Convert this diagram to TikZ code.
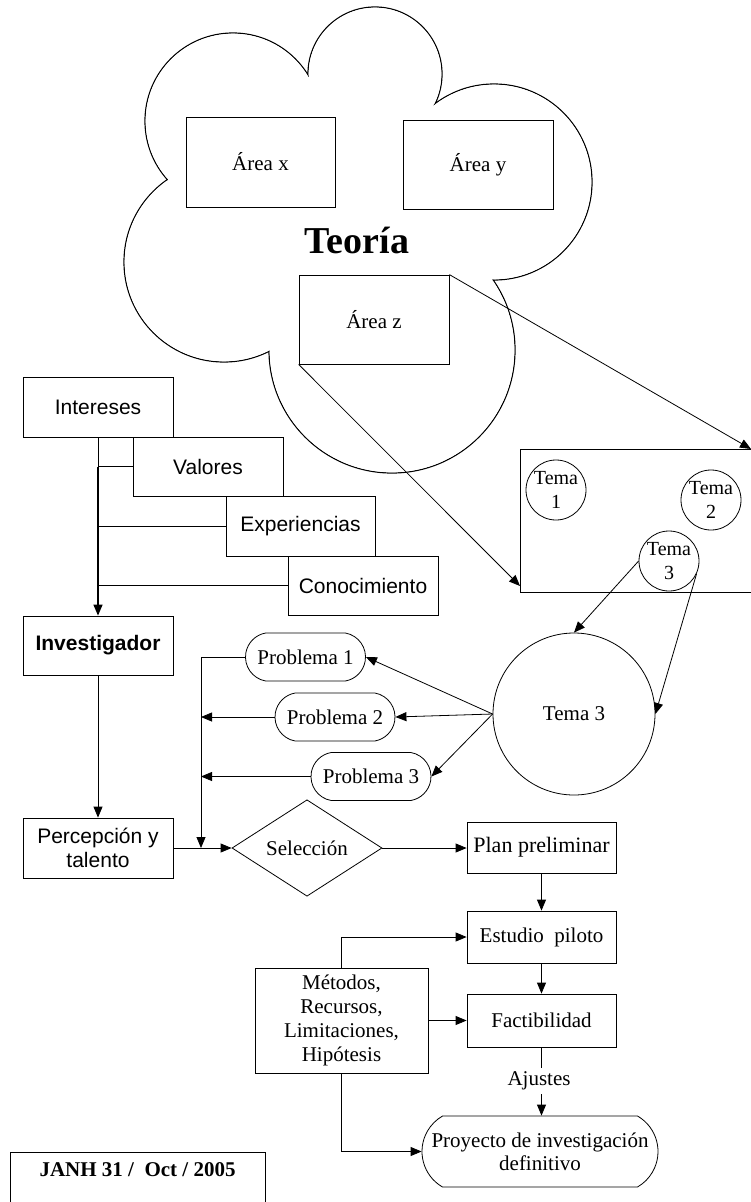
\documentclass[tikz,border=0pt]{standalone}
\usepackage{fontspec}
\setmainfont{Liberation Serif}
\newfontfamily\arialf{Liberation Sans}
\usetikzlibrary{arrows.meta,shapes.geometric,shapes.misc}
\tikzset{
  every node/.style={inner sep=0pt, font=\fontsize{21}{24}\selectfont},
  box/.style={draw, line width=0.8pt, rectangle, align=center},
  sbox/.style={box, minimum width=150pt, minimum height=60pt, font=\arialf\fontsize{21}{24}\selectfont},
  probbox/.style={draw, line width=0.8pt, rounded rectangle, rounded rectangle arc length=160, minimum width=120pt, minimum height=48pt},
  temac/.style={draw, line width=0.8pt, circle, minimum size=60pt, align=center, font=\fontsize{20}{24}\selectfont},
  arr/.style={-{Triangle[length=11pt,width=9pt]}, line width=0.8pt},
  ln/.style={line width=0.8pt},
  cloudline/.style={line width=1.2pt}
}
\begin{document}
\begin{tikzpicture}[x=1pt,y=-1pt]
\useasboundingbox (0,0) rectangle (751,1202);
\clip (0,0) rectangle (751,1202);
\fill[white] (0,0) rectangle (751,1202);

% cloud: union of circles
\draw[cloudline] (375,74) circle[radius=67]
                 (233,121) circle[radius=88]
                 (224,262) circle[radius=100]
                 (392,350) circle[radius=123]
                 (494,182) circle[radius=98];
\fill[white] (375,74) circle[radius=66.3]
             (233,121) circle[radius=87.3]
             (224,262) circle[radius=99.3]
             (392,350) circle[radius=122.3]
             (494,182) circle[radius=97.3];
\fill[white] (309,77) -- (428,115) -- (487,277) -- (273,351) -- (172,183) -- cycle;

\node[font=\bfseries\fontsize{38}{42}\selectfont] (teoria) at (357,240) {Teoría};
\node[box, minimum width=149pt, minimum height=90pt] (ax) at (260.5,162) {Área x};
\node[box, minimum width=150pt, minimum height=89pt] (ay) at (478,164.5) {Área y};
\node[box, minimum width=150pt, minimum height=89pt] (az) at (374,319.5) {Área z};

% tema box
\node[box, minimum width=240pt, minimum height=143pt] (temabox) at (640,520.5) {};
\node[temac] (t1) at (556,490) {Tema\\1};
\node[temac] (t2) at (711,500) {Tema\\2};
\node[temac] (t3s) at (669,561) {Tema\\3};
\coordinate (tbne) at (751,449);
\coordinate (tbin) at (520,586);
\draw[arr] (az.north east) -- (tbne);
\draw[arr] (az.south west) -- (tbin);

% big Tema 3
\node[draw, line width=0.8pt, circle, minimum size=162pt] (T3) at (574,714) {Tema 3};
\draw[arr] (t3s.west) -- (T3.north);
\draw[arr] (t3s.-25) -- (T3.east);

% left column
\node[sbox] (int) at (98,407) {Intereses};
\node[sbox, minimum height=59pt] (val) at (208,466.5) {Valores};
\node[sbox, minimum width=149pt] (exp) at (300.5,526) {Experiencias};
\node[sbox, minimum height=59pt] (con) at (363,585.5) {Conocimiento};
\node[sbox, minimum height=59pt, font=\arialf\bfseries\fontsize{21}{24}\selectfont] (inv) at (98,645.5) {Investigador};
\node[sbox] (per) at (98,848) {Percepción y\\talento};
\draw[ln] (int.south) -- (val.west -| int.south);
\draw[arr, line width=1.3pt] (val.west -| int.south) -- (inv.north);
\draw[ln] (val.west) -- (val.west -| int.south);
\draw[ln] (exp.west) -- (exp.west -| int.south);
\draw[ln] (con.west) -- (con.west -| int.south);
\draw[arr] (inv.south) -- (per.north);

% problems
\node[probbox] (p1) at (305.5,657) {Problema 1};
\node[probbox] (p2) at (335,717) {Problema 2};
\node[probbox] (p3) at (371,776.5) {Problema 3};
\draw[arr] (T3.west) -- (p1.east);
\draw[arr] (T3.west) -- (p2.east);
\draw[arr] (T3.west) -- (p3.east);

% selection
\node[draw, line width=0.8pt, diamond, minimum width=150pt, minimum height=89pt] (sel) at (307,848) {Selección};
\coordinate (cx) at (201,848);
\draw[arr] (p1.west) -| (cx);
\draw[arr] (p2.west) -- (p2.west -| cx);
\draw[arr] (p3.west) -- (p3.west -| cx);
\draw[arr] (per.east) -- (sel.west);

% right chain
\node[box, minimum width=149pt, minimum height=51pt, font=\fontsize{22}{24}\selectfont] (plan) at (541.5,847.5) {Plan preliminar};
\node[box, minimum width=149pt, minimum height=52pt] (est) at (541.5,937) {Estudio\ \ piloto};
\node[box, minimum width=149pt, minimum height=53pt] (fac) at (541.5,1020.5) {Factibilidad};
\node[box, minimum width=173pt, minimum height=105pt] (met) at (341.5,1020.5) {Métodos,\\Recursos,\\Limitaciones,\\Hipótesis};
\node[draw, line width=0.8pt, rounded rectangle, rounded rectangle arc length=120, minimum width=236pt, minimum height=71pt, align=center, font=\fontsize{21}{23}\selectfont] (proy) at (540,1151.5) {Proyecto de investigación\\definitivo};
\node[inner sep=4pt] (aj) at (539,1081) {Ajustes};

\draw[arr] (sel.east) -- (sel.east -| plan.west);
\draw[arr] (plan.south) -- (est.north);
\draw[arr] (est.south) -- (fac.north);
\draw[arr] (met.north) |- (est.west);
\draw[arr] (met.east) -- (fac.west);
\draw[arr] (met.south) |- (proy.west);
\draw[ln] (fac.south) -- (aj.north -| fac.south);
\draw[arr] (aj.south -| fac.south) -- (proy.north -| fac.south);

% signature box
\node[draw, line width=0.8pt, anchor=north, minimum width=255pt, inner ysep=10pt, text height=14pt, text depth=40pt, font=\bfseries\fontsize{21}{24}\selectfont] (janh) at (137.5,1152) {JANH 31 /\ \ Oct / 2005};
\end{tikzpicture}
\end{document}
